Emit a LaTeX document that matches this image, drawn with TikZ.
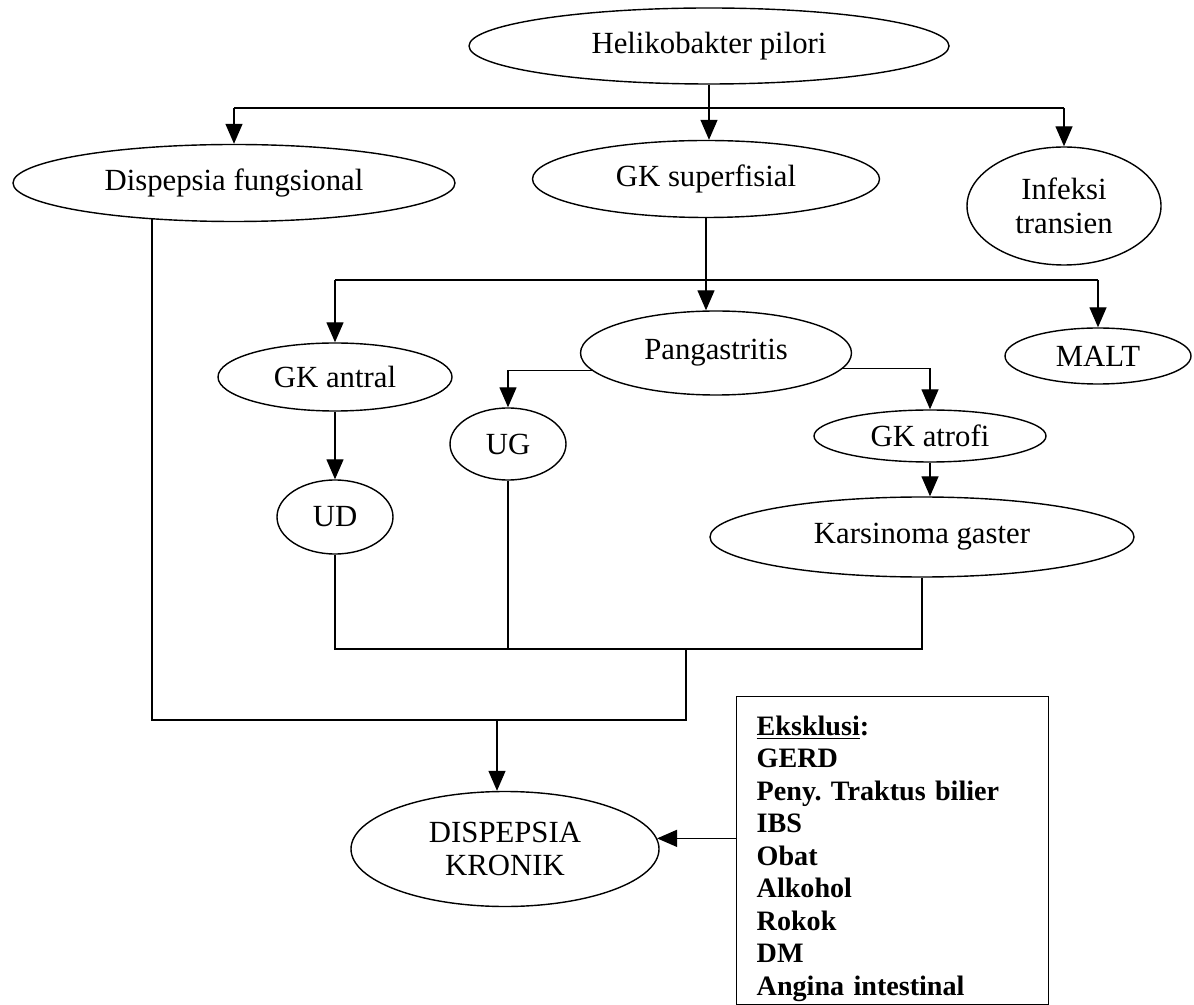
\documentclass[tikz,border=0pt]{standalone}
\usepackage{fontspec}
\setmainfont{Liberation Serif}
\usetikzlibrary{shapes.geometric,arrows.meta}

\begin{document}
\begin{tikzpicture}[x=0.2mm,y=-0.2mm,
  oval/.style 2 args={draw, ellipse, thick, inner sep=0pt, align=center,
    minimum width=#1*0.2mm, minimum height=#2*0.2mm,
    font=\fontsize{17.5}{19}\selectfont},
  >={Triangle[length=4mm,width=3.4mm]}]
\path[use as bounding box] (0,0) rectangle (1194,1005);

\node[oval={480}{76}] (hp) at (709,46) {Helikobakter pilori};
\node[oval={442}{77}] (df) at (234,183) {Dispepsia fungsional};
\node[oval={347}{77}] (gks) at (706,179) {GK superfisial};
\node[oval={194}{118}] (inf) at (1064,206) {Infeksi\\transien};

\node[oval={234}{68}] (gka) at (335,377) {GK antral};
\node[oval={271}{84}] (pg) at (716,353) {Pangastritis};
\node[oval={186}{56}] (malt) at (1098,356) {MALT};
\node[oval={116}{72}] (ug) at (508,444) {UG};
\node[oval={232}{52}] (gkat) at (930,436) {GK atrofi};
\node[oval={116}{74}] (ud) at (335,517) {UD};
\node[oval={424}{80}] (kg) at (922,537) {Karsinoma gaster};

\node[oval={308}{115}] (dk) at (505,849) {DISPEPSIA\\KRONIK};
\node[draw, thick, anchor=north west, text width=54.4mm, inner xsep=4mm,
  inner ysep=2pt, align=left, font=\bfseries\fontsize{16}{18.5}\selectfont]
  (eks) at (736,696) {\rule{0pt}{20pt}\underline{Eksklusi}:\\ GERD\\
  Peny.\ Traktus bilier\\ IBS\\ Obat\\ Alkohol\\ Rokok\\ DM\\ Angina intestinal};

\coordinate (j1) at (708,108);
\coordinate (j2) at (708,280);
\coordinate (j3) at (686,649);
\coordinate (j4) at (686,720);
\coordinate (j5) at (497,720);

\path[draw,thick,->] (hp) -- (hp |- gks.north);
\path[draw,thick] (j1 -| df) -- (j1 -| inf);
\path[draw,thick,->] (j1 -| df) -- (df);
\path[draw,thick,->] (j1 -| inf) -- (inf);

\path[draw,thick,->] (gks) -- (gks |- pg.north);
\path[draw,thick] (j2 -| gka) -- (j2 -| malt);
\path[draw,thick,->] (j2 -| gka) -- (gka);
\path[draw,thick,->] (j2 -| malt) -- (malt);

\path[draw,thick,->] (pg.188) -| (ug);
\path[draw,thick,->] (pg.353) -| (gkat);
\path[draw,thick,->] (gka) -- (ud);
\path[draw,thick,->] (gkat) -- (gkat |- kg.north);

\path[draw,thick] (ud) -- (ud |- j3) -- (kg |- j3) -- (kg);
\path[draw,thick] (ug) -- (ug |- j3);
\path[draw,thick] (j3) -- (j4) -| (df.204);

\path[draw,thick,->] (j5) -- (j5 |- dk.north);
\path[draw,thick,->] (eks.west |- dk.4) -- (dk.4);
\end{tikzpicture}
\end{document}
